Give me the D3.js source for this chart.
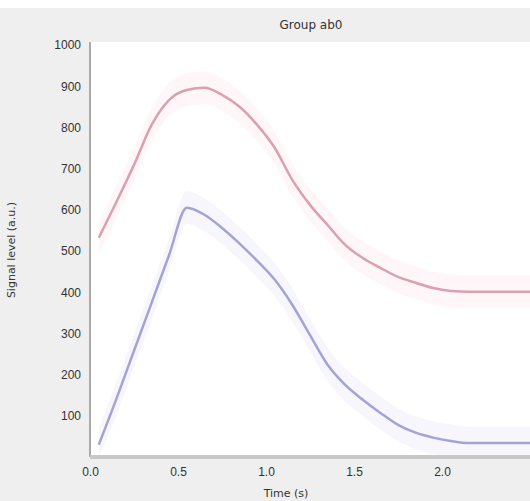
<!DOCTYPE html>
<html>
<head>
<meta charset="utf-8">
<script src="https://cdn.jsdelivr.net/npm/d3@7.9.0/dist/d3.min.js"></script>
<style>
  body { margin: 0; background: #ffffff; }
  svg { display: block; font-family: "DejaVu Sans", sans-serif; }
</style>
</head>
<body>
<svg id="chart" width="530" height="501"></svg>
<script>
// values
const xs = [0.05, 0.15, 0.25, 0.35, 0.45, 0.55, 0.65, 0.75, 0.85, 0.95, 1.05, 1.15, 1.25,
            1.35, 1.45, 1.55, 1.65, 1.75, 1.85, 1.95, 2.05, 2.15, 2.25, 2.35, 2.45, 2.5];
const redSeries = [532, 619, 709, 806, 867, 891, 896, 879, 850, 806, 750, 672, 612,
                   563, 515, 483, 459, 437, 423, 410, 403, 401, 401, 401, 401, 401];
const blueSeries = [30, 141, 258, 374, 491, 605, 588, 556, 518, 476, 430, 369, 296,
                    224, 175, 139, 107, 78, 59, 47, 39, 34, 34, 34, 34, 34];
const xTicks = [0, 0.5, 1.0, 1.5, 2.0];
const yTicks = [1000, 900, 800, 700, 600, 500, 400, 300, 200, 100];
const spread = 40;

const svg = d3.select('#chart');
const W = 530, H = 501;
const mLeft = 90, mTop = 42, mBottom = 457, mRight = 530;

// figure background
svg.append('rect').attr('width', W).attr('height', H).attr('fill', '#efefef');
svg.append('rect').attr('x', 0).attr('y', 0).attr('width', W).attr('height', 8).attr('fill', '#ffffff');

let x = d3.scaleLinear().domain([0, 2.5]).range([mLeft, mRight]);
let y = d3.scaleLinear().domain([0, 1000]).range([mBottom, 45]);

// plot area
svg.append('rect').attr('x', mLeft).attr('y', mTop)
  .attr('width', mRight - mLeft).attr('height', mBottom - mTop).attr('fill', '#ffffff');

const g = svg.append('g');

function drawSeries(vals, color, bandColor) {
  let pts = xs.map((d, i) => ({ x: d, v: vals[i] }));
  let area = d3.area().curve(d3.curveMonotoneX)
    .x(d => x(d.x)).y0(d => y(Math.max(0, d.v - spread))).y1(d => y(d.v + spread));
  g.append('path').attr('d', area(pts)).attr('fill', bandColor).attr('opacity', 0.35);
  let line = d3.line().curve(d3.curveMonotoneX).x(d => x(d.x)).y(d => y(d.v));
  g.append('path').attr('d', line(pts)).attr('fill', 'none')
    .attr('stroke', color).attr('stroke-width', 2.5);
}

drawSeries(redSeries, '#dba0b0', '#fbe4ea');
drawSeries(blueSeries, '#a3a3d6', '#e4e4f6');

// axes
let yAxis = d3.axisLeft(y).tickValues(yTicks).tickFormat(d3.format('d')).tickSize(0).tickPadding(9);
let yg = svg.append('g').attr('transform', `translate(${mLeft},0)`).call(yAxis);
yg.select('.domain').attr('stroke', '#aaaaaa').attr('stroke-width', 2)
  .attr('d', `M0,${mTop}V${mBottom}`);
yg.selectAll('text').attr('font-size', 12).attr('fill', '#333');

let xAxis = d3.axisBottom(x).tickValues(xTicks).tickFormat(d3.format('.1f')).tickSize(0).tickPadding(10);
let xg = svg.append('g').attr('transform', `translate(0,${mBottom})`).call(xAxis);
xg.select('.domain').attr('stroke', '#c8c8c8').attr('stroke-width', 4)
  .attr('d', `M${mLeft},0H${mRight}`);
xg.selectAll('text').attr('font-size', 12).attr('fill', '#333');

// titles
svg.append('text').attr('x', 311).attr('y', 29).attr('text-anchor', 'middle')
  .attr('font-size', 12).attr('fill', '#333').text('Group ab0');
svg.append('text').attr('x', 286).attr('y', 497).attr('text-anchor', 'middle')
  .attr('font-size', 11).attr('fill', '#333').text('Time (s)');
svg.append('text').attr('transform', 'translate(15,250) rotate(-90)')
  .attr('text-anchor', 'middle').attr('font-size', 11).attr('fill', '#333')
  .text('Signal level (a.u.)');
</script>
</body>
</html>
